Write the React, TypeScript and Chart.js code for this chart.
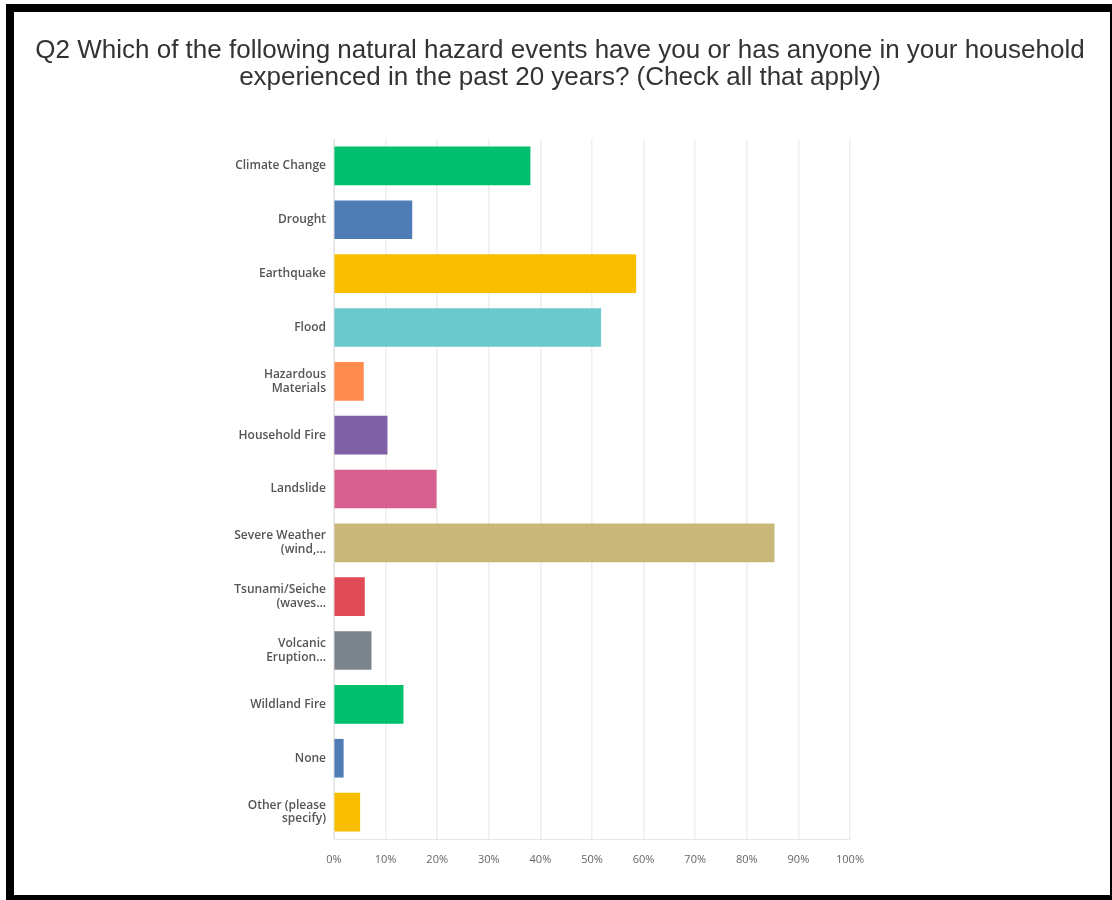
import React, { useEffect, useRef } from "react";
import { Chart, registerables } from "chart.js";

Chart.register(...registerables);

const titleLines = [
  "Q2 Which of the following natural hazard events have you or has anyone in your household",
  "experienced in the past 20 years? (Check all that apply)",
];

const categories: string[][] = [
  ["Climate Change"],
  ["Drought"],
  ["Earthquake"],
  ["Flood"],
  ["Hazardous", "Materials"],
  ["Household Fire"],
  ["Landslide"],
  ["Severe Weather", "(wind,..."],
  ["Tsunami/Seiche", "(waves..."],
  ["Volcanic", "Eruption..."],
  ["Wildland Fire"],
  ["None"],
  ["Other (please", "specify)"],
];

const percentages = [38.0, 15.1, 58.5, 51.7, 5.7, 10.3, 19.8, 85.3, 5.9, 7.2, 13.4, 1.8, 5.0];

const barColors = [
  "#00BF6F",
  "#507CB6",
  "#F9BE00",
  "#6BC8CD",
  "#FF8B4F",
  "#7F5FA6",
  "#D6608E",
  "#C7B879",
  "#E04B55",
  "#7A848C",
  "#00BF6F",
  "#507CB6",
  "#F9BE00",
];

const xTickValues = [0, 10, 20, 30, 40, 50, 60, 70, 80, 90, 100];

export default function App() {
  const canvasRef = useRef<HTMLCanvasElement | null>(null);

  useEffect(() => {
    if (!canvasRef.current) return;
    const chart = new Chart(canvasRef.current, {
      type: "bar",
      data: {
        labels: categories,
        datasets: [
          {
            data: percentages,
            backgroundColor: barColors,
            borderWidth: 0,
            barThickness: 38,
          },
        ],
      },
      options: {
        indexAxis: "y",
        responsive: false,
        animation: false,
        devicePixelRatio: 1,
        layout: { padding: { left: 0, right: 262, top: 139, bottom: 31 } },
        plugins: {
          legend: { display: false },
          tooltip: { enabled: false },
          title: { display: false },
        },
        scales: {
          x: {
            min: 0,
            max: 100,
            afterBuildTicks: (scale: any) => {
              scale.ticks = xTickValues.map((v) => ({ value: v }));
            },
            afterFit: (scale: any) => {
              scale.height = 30;
            },
            grid: { color: "#eeeeee", lineWidth: 1.5, drawTicks: false },
            border: { display: true, color: "#e6e6e6" },
            ticks: {
              padding: 14,
              color: "#666666",
              font: { family: "'Open Sans', sans-serif", size: 11 },
              callback: (v: any) => v + "%",
              maxRotation: 0,
              autoSkip: false,
            },
          },
          y: {
            afterFit: (scale: any) => {
              scale.width = 334;
            },
            grid: { display: false, drawTicks: false },
            border: { display: true, color: "#e2e2e2" },
            ticks: {
              padding: 8,
              color: "#555555",
              font: { family: "'Open Sans', sans-serif", size: 12, weight: "600", lineHeight: 1.15 },
              autoSkip: false,
            },
          },
        },
      },
    });
    return () => chart.destroy();
  }, []);

  return (
    <div style={{ position: "fixed", left: 0, top: 0, width: 1112, height: 900, background: "#ffffff" }}>
      <canvas ref={canvasRef} width={1112} height={900} style={{ position: "absolute", left: 0, top: 0 }} />
      <div
        style={{
          position: "absolute",
          left: 10,
          top: 36,
          width: 1100,
          textAlign: "center",
          fontFamily: "'Liberation Sans', Arial, sans-serif",
          fontSize: 26,
          lineHeight: "27px",
          color: "#333333",
          whiteSpace: "nowrap",
        }}
      >
        {titleLines.map((line, i) => (
          <div key={i}>{line}</div>
        ))}
      </div>
      <div
        style={{
          position: "absolute",
          left: 6,
          top: 4,
          width: 1106,
          height: 896,
          boxSizing: "border-box",
          borderStyle: "solid",
          borderColor: "#000",
          borderTopWidth: 8,
          borderLeftWidth: 8,
          borderRightWidth: 2,
          borderBottomWidth: 5,
          pointerEvents: "none",
        }}
      />
    </div>
  );
}
